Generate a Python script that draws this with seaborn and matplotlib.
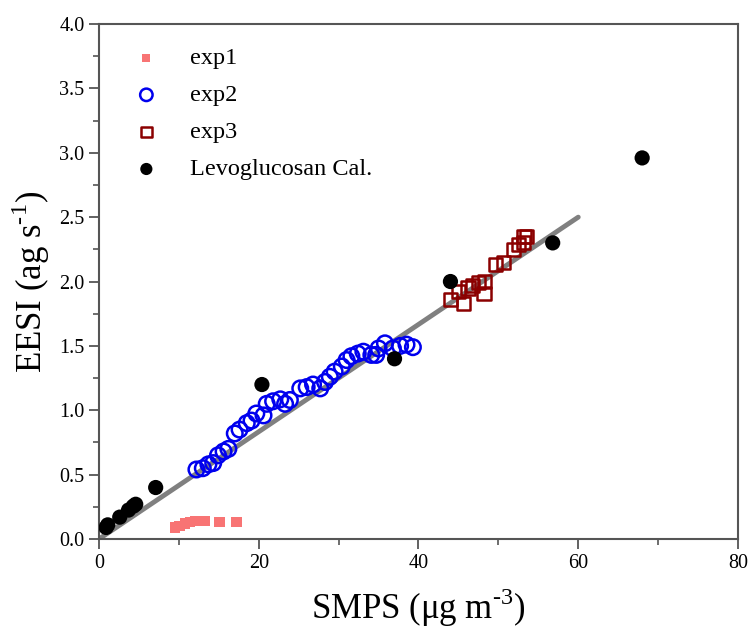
import matplotlib
matplotlib.use("Agg")
import matplotlib.pyplot as plt
import seaborn as sns
import pandas as pd
from matplotlib.ticker import MultipleLocator

# ---- data ----
exp1_x = [9.5, 10.1, 10.8, 11.4, 12.0, 12.6, 13.3, 15.1, 17.2]
exp1_y = [0.09, 0.10, 0.12, 0.13, 0.14, 0.14, 0.14, 0.13, 0.13]

exp2_x = [12.2, 13.0, 13.7, 14.3, 14.9, 15.6, 16.2, 17.0, 17.6, 18.5, 19.1, 19.7,
          20.6, 21.0, 21.8, 22.7, 23.3, 23.9, 25.2, 26.0, 26.8, 27.7, 28.3, 28.9,
          29.5, 30.4, 31.0, 31.6, 32.4, 33.1, 34.1, 34.7, 35.0, 35.8, 36.8, 37.7,
          38.5, 39.3]
exp2_y = [0.54, 0.55, 0.58, 0.59, 0.65, 0.68, 0.70, 0.82, 0.85, 0.90, 0.92, 0.975,
          0.96, 1.05, 1.07, 1.085, 1.05, 1.08, 1.17, 1.18, 1.20, 1.17, 1.22, 1.26,
          1.30, 1.34, 1.39, 1.42, 1.44, 1.455, 1.43, 1.43, 1.48, 1.52, 1.48, 1.50,
          1.51, 1.49]

exp3_x = [44.0, 45.0, 45.6, 46.2, 46.8, 47.5, 48.2, 48.3, 49.6, 50.6, 51.9, 52.5,
          53.1, 53.2, 53.5]
exp3_y = [1.86, 1.92, 1.83, 1.95, 1.97, 1.99, 1.91, 2.00, 2.13, 2.15, 2.25, 2.29,
          2.30, 2.35, 2.35]

levo_x = [0.9, 1.1, 2.6, 3.7, 4.3, 4.6, 7.1, 20.4, 37.0, 44.0, 56.8, 68.0]
levo_y = [0.09, 0.11, 0.17, 0.225, 0.255, 0.27, 0.40, 1.20, 1.40, 2.00, 2.30, 2.96]

fit_x = [0, 60]
fit_y = [0, 2.5]

x_ticks = [0, 20, 40, 60, 80]
y_ticks = [0.0, 0.5, 1.0, 1.5, 2.0, 2.5, 3.0, 3.5, 4.0]

# ---- style ----
sns.set_theme(style="ticks")
plt.rcParams["font.family"] = ["Liberation Serif", "DejaVu Serif"]
plt.rcParams["mathtext.fontset"] = "custom"
plt.rcParams["mathtext.rm"] = "Liberation Serif"
plt.rcParams["text.color"] = "black"
plt.rcParams["axes.labelcolor"] = "black"

fig = plt.figure(figsize=(7.52, 6.37), dpi=100)
ax = fig.add_axes([0.1316, 0.1538, 0.8498, 0.8085])

sns.lineplot(x=fit_x, y=fit_y, ax=ax, color="#808080", linewidth=3.5, zorder=1)

sns.scatterplot(x=exp1_x, y=exp1_y, ax=ax, marker="s", s=55, color="#f87474",
                edgecolor="none", linewidth=0, label="exp1", zorder=3)
sns.scatterplot(x=exp2_x, y=exp2_y, ax=ax, marker="o", s=125, facecolor="none",
                edgecolor="#0000ee", linewidth=1.8, label="exp2", zorder=3)
sns.scatterplot(x=exp3_x, y=exp3_y, ax=ax, marker="s", s=90, facecolor="none",
                edgecolor="#8b0000", linewidth=1.8, label="exp3", zorder=3)
sns.scatterplot(x=levo_x, y=levo_y, ax=ax, marker="o", s=120, color="black",
                edgecolor="none", linewidth=0, label="Levoglucosan Cal.", zorder=4)

ax.set_xlim(0, 80)
ax.set_ylim(0, 4.0)
ax.set_xticks(x_ticks)
ax.set_yticks(y_ticks)
ax.set_xticklabels([str(v) for v in x_ticks])
ax.set_yticklabels([f"{v:.1f}" for v in y_ticks])
ax.xaxis.set_minor_locator(MultipleLocator(10))
ax.yaxis.set_minor_locator(MultipleLocator(0.25))

for sp in ax.spines.values():
    sp.set_visible(True)
    sp.set_color("#555555")
    sp.set_linewidth(1.5)

ax.tick_params(which="major", direction="out", length=7, width=1.3, color="#555555",
               labelsize=14.5, labelcolor="black", top=False, right=False)
ax.tick_params(which="minor", direction="out", length=4, width=1.2, color="#555555",
               top=False, right=False)

ax.set_xlabel(r"SMPS (μg m$^{\text{-3}}$)", fontsize=25, labelpad=10)
ax.set_ylabel(r"EESI (ag s$^{\text{-1}}$)", fontsize=25, labelpad=5)

leg = ax.legend(loc="upper left", frameon=False, fontsize=17.5, handletextpad=0.8,
                labelspacing=0.62, borderaxespad=0.55, bbox_to_anchor=(0.0, 1.0),
                markerscale=0.8)

fig.savefig("out.png", dpi=100)
